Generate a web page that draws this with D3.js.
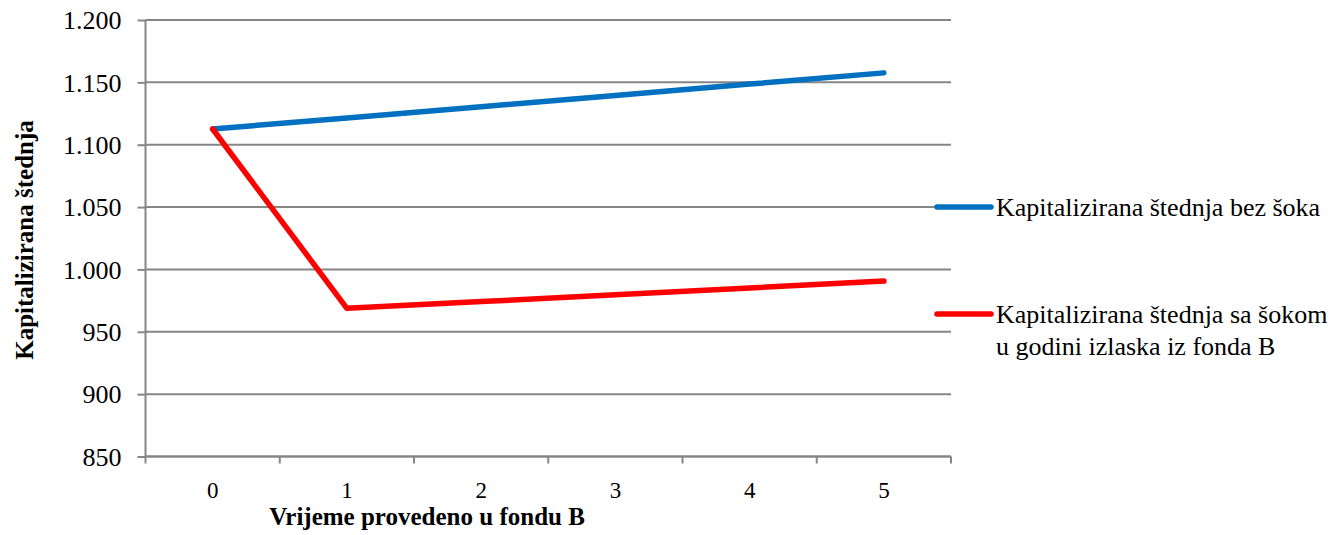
<!DOCTYPE html>
<html><head><meta charset="utf-8">
<script src="https://cdn.jsdelivr.net/npm/d3@7"></script>
</head><body style="margin:0">
<svg id="c" width="1338" height="535"></svg>
<script>
const categories = [0, 1, 2, 3, 4, 5];
const seriesNames = ["Kapitalizirana štednja bez šoka", "Kapitalizirana štednja sa šokom u godini izlaska iz fonda B"];
const noShock = [1112.6, 1121.5, 1130.5, 1139.5, 1148.6, 1157.6];
const withShock = [1112.6, 968.8, 974.2, 979.7, 985.2, 990.7];
const yTicks = [850, 900, 950, 1000, 1050, 1100, 1150, 1200];
const colors = ["#0070C0", "#FF0000"];

const FONT = "Liberation Serif";
const svg = d3.select("#c");
const L = 145.5, R = 951, T = 20, B = 456.5;
const x = d3.scaleBand().domain(categories).range([L, R]);
const y = d3.scaleLinear().domain([850, 1200]).range([B, T]);
const fmt = d => d >= 1000 ? d3.format(",")(d).replace(",", ".") : String(d);
const GRID = "#868686";

svg.append("g").selectAll("line").data(yTicks).join("line")
  .attr("x1", L).attr("x2", R).attr("y1", d => y(d)).attr("y2", d => y(d))
  .attr("stroke", GRID).attr("stroke-width", 2);

const ya = svg.append("g").attr("transform", `translate(${L},0)`)
  .call(d3.axisLeft(y).tickValues(yTicks).tickSize(8).tickPadding(16).tickFormat(fmt));
ya.select(".domain").attr("stroke", GRID).attr("stroke-width", 2).attr("d", `M0,${T}V${B}`);
ya.selectAll(".tick line").attr("stroke", GRID).attr("stroke-width", 2);
ya.selectAll(".tick text").style("font-family", FONT).style("font-size", "26px").attr("fill", "#000").attr("dy", "0.34em");

const xa = svg.append("g").attr("transform", `translate(0,${B})`)
  .call(d3.axisBottom(x).tickSize(0).tickPadding(0));
xa.select(".domain").attr("stroke", GRID).attr("stroke-width", 2).attr("d", `M${L},0H${R}`);
xa.selectAll(".tick text").style("font-family", FONT).style("font-size", "23px").attr("fill", "#000").attr("y", 41.5).attr("dy", null);
const bounds = categories.map(c => x(c)).concat([R]);
xa.append("g").selectAll("line").data(bounds).join("line")
  .attr("x1", d => d).attr("x2", d => d).attr("y1", 0).attr("y2", 7)
  .attr("stroke", GRID).attr("stroke-width", 2);

const line = d3.line().x((d, i) => x(categories[i]) + x.bandwidth() / 2).y(d => y(d));
[noShock, withShock].forEach((s, i) => {
  svg.append("path").datum(s).attr("d", line).attr("fill", "none")
    .attr("stroke", colors[i]).attr("stroke-width", 5.5)
    .attr("stroke-linecap", "round").attr("stroke-linejoin", "round");
});

svg.append("text").attr("x", 427).attr("y", 525).attr("text-anchor", "middle")
  .style("font-family", FONT).style("font-size", "25px").style("font-weight", "bold")
  .text("Vrijeme provedeno u fondu B");
svg.append("text").attr("transform", "translate(33,240) rotate(-90)").attr("text-anchor", "middle")
  .style("font-family", FONT).style("font-size", "25px").style("font-weight", "bold")
  .text("Kapitalizirana štednja");

const leg = svg.append("g");
const legY = [207, 314];
const legLines = [[seriesNames[0]], ["Kapitalizirana štednja sa šokom", "u godini izlaska iz fonda B"]];
legY.forEach((ly, i) => {
  leg.append("line").attr("x1", 937).attr("x2", 991).attr("y1", ly).attr("y2", ly)
    .attr("stroke", colors[i]).attr("stroke-width", 5.5).attr("stroke-linecap", "round");
  legLines[i].forEach((t, j) => {
    leg.append("text").attr("x", 996).attr("y", ly + 9 + j * 32)
      .style("font-family", FONT).style("font-size", "26px").text(t);
  });
});
</script>
</body></html>
